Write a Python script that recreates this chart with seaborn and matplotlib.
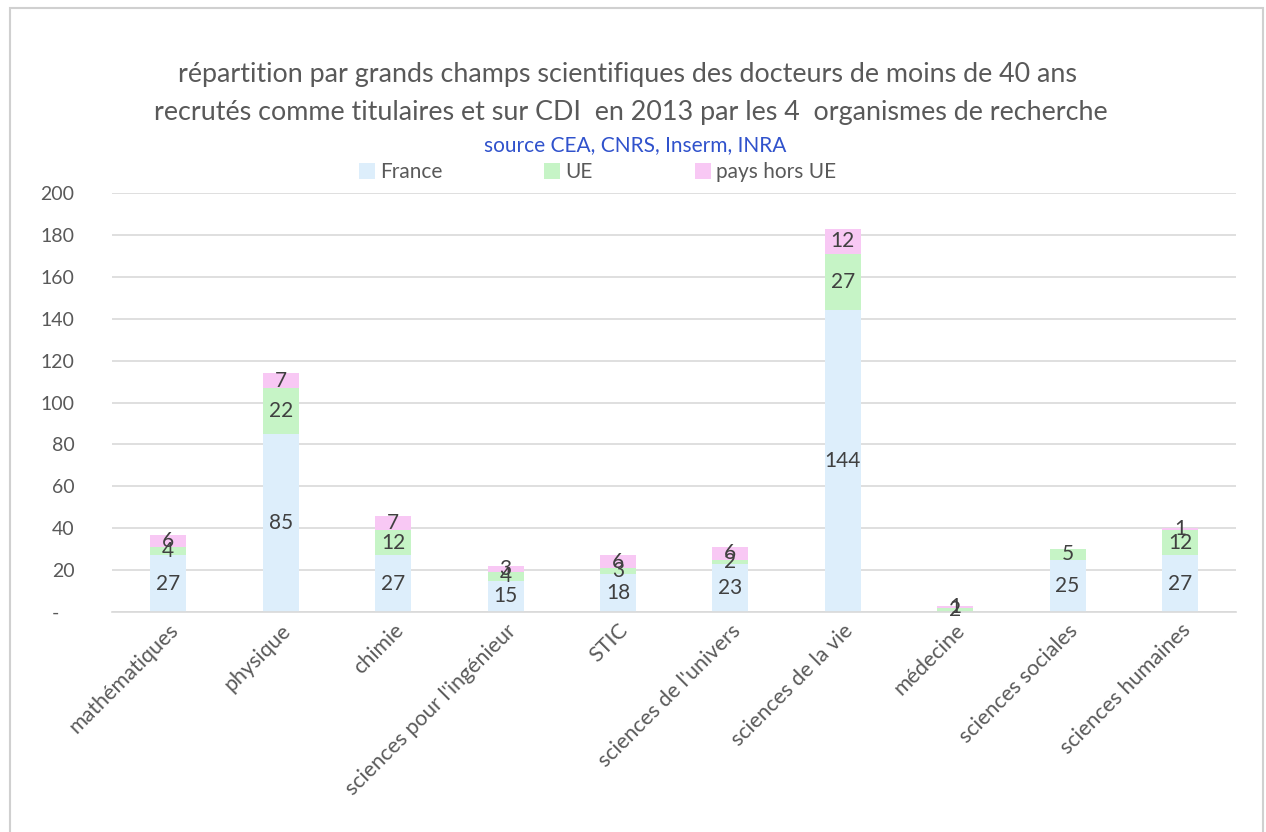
import numpy as np
import pandas as pd
import matplotlib
matplotlib.use("Agg")
import matplotlib.pyplot as plt
import seaborn as sns
from matplotlib.patches import Patch, Rectangle
from matplotlib.ticker import FuncFormatter

categories = ["mathématiques", "physique", "chimie", "sciences pour l'ingénieur", "STIC",
              "sciences de l'univers", "sciences de la vie", "médecine",
              "sciences sociales", "sciences humaines"]
france = [27, 85, 27, 15, 18, 23, 144, 0, 25, 27]
ue = [4, 22, 12, 4, 3, 2, 27, 2, 5, 12]
hors_ue = [6, 7, 7, 3, 6, 6, 12, 1, 0, 1]
series_names = ["France", "UE", "pays hors UE"]
colors = ["#DDEEFB", "#C6F4C6", "#F8C8F4"]

sns.set_theme(style="white")
plt.rcParams["font.family"] = ["Lato", "DejaVu Sans"]

df = pd.DataFrame({"cat": categories, "France": france, "UE": ue, "pays hors UE": hors_ue})

fig = plt.figure(figsize=(12.66, 8.32), dpi=100)
ax = fig.add_axes([0.0885, 0.2644, 0.888, 0.5036])

bottom = np.zeros(len(categories))
for name, col in zip(series_names, colors):
    vals = df[name].to_numpy(dtype=float)
    sns.barplot(data=df, x="cat", y=name, order=categories, color=col, width=0.32,
                errorbar=None, bottom=bottom, ax=ax, saturation=1, linewidth=0)
    cont = ax.containers[-1]
    labels = [f"{int(v)}" if v > 0 else "" for v in vals]
    ax.bar_label(cont, labels=labels, label_type="center", fontsize=15, color="#404040")
    bottom = bottom + vals

ax.set_ylim(0, 200)
ax.set_yticks(np.arange(0, 201, 20))
ax.yaxis.set_major_formatter(FuncFormatter(lambda v, p: "-   " if v == 0 else f"{int(v)}"))
ax.set_xlim(-0.5, len(categories) - 0.5)
ax.grid(axis="y", color="#D9D9D9", linewidth=1.2)
ax.set_axisbelow(True)
for s in ["top", "right", "left"]:
    ax.spines[s].set_visible(False)
ax.spines["bottom"].set_color("#D9D9D9")
ax.spines["bottom"].set_linewidth(1.2)
ax.set_xlabel("")
ax.set_ylabel("")
ax.tick_params(axis="y", labelsize=14, labelcolor="#595959", length=0, pad=27)
ax.tick_params(axis="x", labelsize=15.5, labelcolor="#595959", length=0, pad=6)
plt.setp(ax.get_xticklabels(), rotation=45, ha="right", rotation_mode="anchor")

fig.text(0.496, 0.910, "répartition par grands champs scientifiques des docteurs de moins de 40 ans",
         ha="center", va="center", fontsize=19.4, color="#595959")
fig.text(0.498, 0.865, "recrutés comme titulaires et sur CDI  en 2013 par les 4  organismes de recherche",
         ha="center", va="center", fontsize=19.4, color="#595959")
fig.text(0.502, 0.826, "source CEA, CNRS, Inserm, INRA", ha="center", va="center",
         fontsize=15, color="#3052CC")

handles = [Patch(facecolor=c, edgecolor="none") for c in colors]
fig.legend(handles, series_names, loc="center", bbox_to_anchor=(0.472, 0.793), ncol=3,
           frameon=False, fontsize=15, handlelength=0.77, handleheight=0.8,
           columnspacing=4.9, handletextpad=0.25, labelcolor="#595959")

fig.patches.append(Rectangle((0.008, -0.01), 0.99, 1.0, transform=fig.transFigure,
                             fill=False, edgecolor="#D0D0D0", linewidth=1.5))

fig.savefig("out.png", dpi=100)
